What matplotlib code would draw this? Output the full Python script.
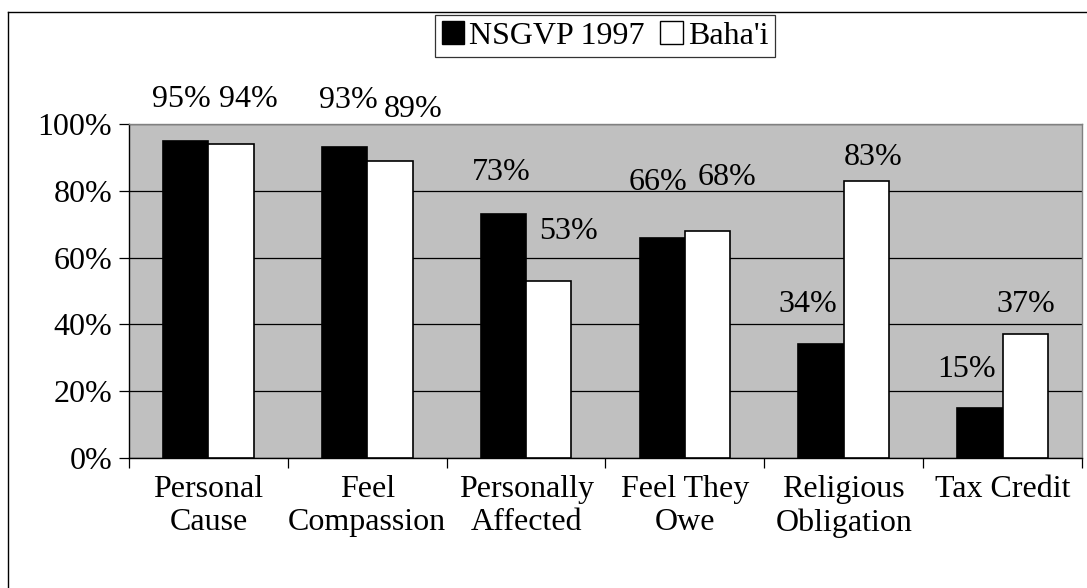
import matplotlib.pyplot as plt
import numpy as np
from matplotlib.lines import Line2D
from matplotlib.patches import Patch

plt.rcParams["font.family"] = ["Liberation Serif", "DejaVu Serif"]

categories = ["Personal\nCause", "Feel\nCompassion", "Personally\nAffected",
              "Feel They\nOwe", "Religious\nObligation", "Tax Credit"]
nsgvp = [95, 93, 73, 66, 34, 15]
bahai = [94, 89, 53, 68, 83, 37]

# hand-placed label positions (x offset from category centre, y in data units)
nsgvp_lbl = [(-0.173, 107.4), (-0.121, 107.1), (-0.157, 85.5), (-0.169, 82.5), (-0.224, 46.0), (-0.229, 26.5)]
bahai_lbl = [(0.249, 107.4), (0.288, 104.4), (0.264, 67.9), (0.266, 84.0), (0.185, 90.0), (0.149, 46.0)]

FS = 23
W, H = 1087, 588
fig = plt.figure(figsize=(W / 100, H / 100), dpi=100)
ax = fig.add_axes([129 / W, 1 - 458 / H, (1082 - 129) / W, (458 - 124) / H])
ax.set_facecolor("#C0C0C0")

x = np.arange(len(categories))
bw = 0.285
ax.bar(x - bw / 2, nsgvp, bw, color="black", edgecolor="black", linewidth=1.2, zorder=3)
ax.bar(x + bw / 2, bahai, bw, color="white", edgecolor="black", linewidth=1.2, zorder=3)

for i, ((dx, y), v) in enumerate(zip(nsgvp_lbl, nsgvp)):
    ax.text(i + dx, y, f"{v}%", ha="center", va="center", fontsize=FS, clip_on=False)
for i, ((dx, y), v) in enumerate(zip(bahai_lbl, bahai)):
    ax.text(i + dx, y, f"{v}%", ha="center", va="center", fontsize=FS, clip_on=False)

ax.set_xlim(-0.5, len(categories) - 0.5)
ax.set_ylim(0, 100)
ax.set_yticks(range(0, 101, 20))
ax.set_yticklabels([f"{t}%" for t in range(0, 101, 20)], fontsize=FS)
ax.yaxis.grid(True, color="black", linewidth=0.9)
ax.set_axisbelow(True)
ax.tick_params(axis="y", direction="out", length=7, width=0.9, pad=5)

# category labels between boundary ticks
ax.set_xticks(np.arange(-0.5, len(categories), 1.0))
ax.set_xticklabels([])
ax.tick_params(axis="x", direction="out", length=7, width=0.9)
for i, c in enumerate(categories):
    ax.text(i, -5.0, c, ha="center", va="top", fontsize=FS, linespacing=1.2)

for s in ["left", "bottom"]:
    ax.spines[s].set_color("black")
    ax.spines[s].set_linewidth(1.0)
for s in ["top", "right"]:
    ax.spines[s].set_color("#808080")
    ax.spines[s].set_linewidth(1.0)

handles = [Patch(facecolor="black", edgecolor="black"),
           Patch(facecolor="white", edgecolor="black")]
leg = fig.legend(handles, ["NSGVP 1997", "Baha'i"], loc="center",
                 bbox_to_anchor=(605 / W, 1 - 36 / H), ncol=2, fontsize=FS,
                 frameon=True, fancybox=False, edgecolor="black",
                 handlelength=0.7, handleheight=0.7, handletextpad=0.15,
                 columnspacing=0.5, borderpad=0.2, borderaxespad=0)
leg.get_frame().set_linewidth(0.9)

# outer chart border (left and top visible)
fig.add_artist(Line2D([8 / W, 8 / W], [0, 1 - 12 / H], color="black", linewidth=1.0))
fig.add_artist(Line2D([8 / W, 1], [1 - 12 / H, 1 - 12 / H], color="black", linewidth=1.0))

fig.savefig("out.png", dpi=100)
